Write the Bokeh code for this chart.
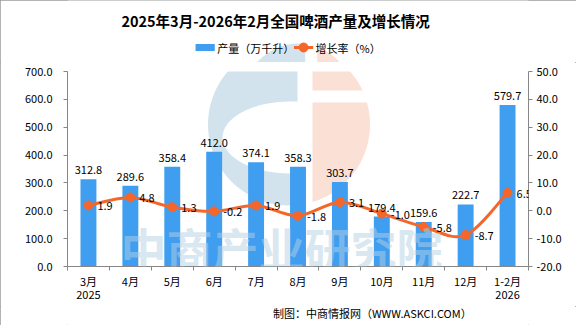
import numpy as np
from bokeh.plotting import figure
from bokeh.layouts import column
from bokeh.models import (Range1d, LinearAxis, FixedTicker, NumeralTickFormatter, Label,
                          ColumnDataSource, LabelSet)
from bokeh.core.properties import value
from bokeh.embed import file_html
from bokeh.resources import INLINE

# ---- data ----
categories = ["3月", "4月", "5月", "6月", "7月", "8月", "9月", "10月", "11月", "12月", "1-2月"]
year_labels = ["2025", "", "", "", "", "", "", "", "", "", "2026"]
output = [312.8, 289.6, 358.4, 412.0, 374.1, 358.3, 303.7, 179.4, 159.6, 222.7, 579.7]
growth = [1.9, 4.8, 1.3, -0.2, 1.9, -1.8, 3.1, -1.0, -5.8, -8.7, 6.5]
left_ticks = [0, 100, 200, 300, 400, 500, 600, 700]
right_ticks = [-20, -10, 0, 10, 20, 30, 40, 50]

title_text = "2025年3月-2026年2月全国啤酒产量及增长情况"
legend_bar = "产量（万千升）"
legend_line = "增长率（%）"
source_text = "制图：中商情报网（WWW.ASKCI.COM）"
watermark_text = "中商产业研究院"

FONT = "Noto Sans CJK SC"
BLUE = "#3f9ef0"
ORANGE = "#f4662a"
AXIS = "#868686"
LOGO_BLUE = "#d3e3ee"
LOGO_ORANGE = "#fbe0d5"

W = 576
HEAD_H, MAIN_H, FOOT_H = 62, 244, 19
L, R = 67, 48
MAIN_TOP, MAIN_BOTTOM = 9, 40
FRAME_TOP = HEAD_H + MAIN_TOP                 # canvas y of frame top
FRAME_BOTTOM = HEAD_H + MAIN_H - MAIN_BOTTOM  # canvas y of frame bottom
FRAME_W = W - L - R
FOOT_Y0 = HEAD_H + MAIN_H

n = len(categories)
xs = [i + 0.5 for i in range(n)]
YMAX = 700


def base_fig(h, xr, yr, **kw):
    f = figure(width=W, height=h, x_range=xr, y_range=yr, output_backend="svg",
               toolbar_location=None, outline_line_color=None,
               background_fill_color="white", border_fill_color="white", **kw)
    f.title.visible = False
    return f


# ---------- logo (watermark decoration) helpers ----------
LC = (288.5, 124.0)
LR = 81.0


def logo_shapes(f, fx, fy, level="underlay"):
    cx, cy = LC
    # blue part: disk region left of x=297
    c = (297 - cx) / LR
    a0 = np.arccos(c)
    th = np.linspace(a0, 2 * np.pi - a0, 80)
    bx = cx + LR * np.cos(th)
    by = cy - LR * np.sin(th)
    f.patch([fx(v) for v in bx], [fy(v) for v in by], fill_color=LOGO_BLUE,
            line_color=None, level=level)
    # white inner cut of the blue "C"
    ex, ey, rx, ry = 290.0, 137.0, 68.0, 36.0
    t2 = np.linspace(0, 2 * np.pi, 80)
    f.patch([fx(v) for v in ex + rx * np.cos(t2)], [fy(v) for v in ey + ry * np.sin(t2)],
            fill_color="white", line_color=None, level=level)
    # orange part: disk region right of x=312
    c2 = (312 - cx) / LR
    a1 = np.arccos(c2)
    th2 = np.linspace(-a1, a1, 60)
    ox = cx + LR * np.cos(th2)
    oy = cy - LR * np.sin(th2)
    f.patch([fx(v) for v in ox], [fy(v) for v in oy], fill_color=LOGO_ORANGE,
            line_color=None, level=level)
    # horizontal white gap in the orange part
    f.quad(left=fx(310), right=fx(372), top=fy(90), bottom=fy(102),
           fill_color="white", line_color=None, level=level)


# ---------- header ----------
head = base_fig(HEAD_H, Range1d(0, W), Range1d(HEAD_H, 0),
                x_axis_type=None, y_axis_type=None,
                min_border_left=0, min_border_right=0, min_border_top=0, min_border_bottom=0)
head.xgrid.visible = False
head.ygrid.visible = False
logo_shapes(head, lambda v: v, lambda v: v)
head.text(x=[260], y=[20], text=[title_text], text_font=value(FONT),
          text_font_size="14.5px", text_font_style="bold", text_color="#000000",
          text_align="center", text_baseline="middle")
head.quad(left=[160], right=[184], top=[43.5], bottom=[50.5], fill_color=BLUE, line_color=None)
head.text(x=[187], y=[47], text=[legend_bar], text_font=value(FONT), text_font_size="11px",
          text_color="#000000", text_align="left", text_baseline="middle")
head.segment(x0=[283], y0=[47], x1=[307], y1=[47], line_color=ORANGE, line_width=3)
head.scatter(x=[295], y=[47], size=9, fill_color=ORANGE, line_color=ORANGE)
head.text(x=[310], y=[47], text=[legend_line], text_font=value(FONT), text_font_size="11px",
          text_color="#000000", text_align="left", text_baseline="middle")

# ---------- main chart ----------
p = base_fig(MAIN_H, Range1d(0, n), Range1d(0, YMAX),
             min_border_left=L, min_border_right=R, min_border_top=MAIN_TOP,
             min_border_bottom=MAIN_BOTTOM)
p.xgrid.visible = False
p.ygrid.visible = False
p.extra_y_ranges = {"right": Range1d(-20, 50)}


def mx(cx):
    return (cx - L) / FRAME_W * n


def my(cy):
    return (FRAME_BOTTOM - cy) / (FRAME_BOTTOM - FRAME_TOP) * YMAX


logo_shapes(p, mx, my)

# left axis
ya = p.yaxis[0]
ya.ticker = FixedTicker(ticks=left_ticks)
ya.formatter = NumeralTickFormatter(format="0.0")
ya.major_tick_out = 4
ya.major_tick_in = 0
ya.minor_tick_line_color = None
ya.axis_line_color = AXIS
ya.major_tick_line_color = AXIS
ya.major_label_text_font = FONT
ya.major_label_text_font_size = "11px"
ya.major_label_text_color = "#000000"
ya.major_label_standoff = 11

# right axis
ra = LinearAxis(y_range_name="right")
ra.ticker = FixedTicker(ticks=right_ticks)
ra.formatter = NumeralTickFormatter(format="0.0")
ra.major_tick_out = 4
ra.major_tick_in = 0
ra.minor_tick_line_color = None
ra.axis_line_color = AXIS
ra.major_tick_line_color = AXIS
ra.major_label_text_font = FONT
ra.major_label_text_font_size = "11px"
ra.major_label_text_color = "#000000"
ra.major_label_standoff = 4
p.add_layout(ra, "right")

# bottom axis
xa = p.xaxis[0]
xa.ticker = FixedTicker(ticks=xs, minor_ticks=list(range(n + 1)))
overrides = {}
for x, c, yl in zip(xs, categories, year_labels):
    overrides[x] = c + ("\n" + yl if yl else "")
xa.major_label_overrides = overrides
xa.major_tick_line_color = None
xa.major_tick_out = 0
xa.major_tick_in = 0
xa.minor_tick_out = 4
xa.minor_tick_in = 0
xa.minor_tick_line_color = AXIS
xa.axis_line_color = AXIS
xa.major_label_text_font = FONT
xa.major_label_text_font_size = "11px"
xa.major_label_text_color = "#000000"
xa.major_label_text_line_height = 0.82
xa.major_label_standoff = 2

# bars
src = ColumnDataSource(dict(x=xs, top=output, lab=["%.1f" % v for v in output]))
p.vbar(x="x", top="top", width=0.38, source=src, fill_color=BLUE, line_color=None)
p.add_layout(LabelSet(x="x", y="top", text="lab", source=src, y_offset=5,
                      text_align="center", text_baseline="bottom",
                      text_font=value(FONT), text_font_size="11px", text_color="#000000"))

# smooth growth line (bezier segments through the data points)
g = np.array(growth, dtype=float)
xg = np.array(xs, dtype=float)
prev_x = np.concatenate([[xg[0]], xg[:-1]])
prev_y = np.concatenate([[g[0]], g[:-1]])
next_x = np.concatenate([xg[1:], [xg[-1]]])
next_y = np.concatenate([g[1:], [g[-1]]])
segs = dict(x0=[], y0=[], x1=[], y1=[], cx0=[], cy0=[], cx1=[], cy1=[])
for i in range(n - 1):
    segs["x0"].append(xg[i]); segs["y0"].append(g[i])
    segs["x1"].append(xg[i + 1]); segs["y1"].append(g[i + 1])
    segs["cx0"].append(xg[i] + (xg[i + 1] - prev_x[i]) / 6)
    segs["cy0"].append(g[i] + (g[i + 1] - prev_y[i]) / 6)
    segs["cx1"].append(xg[i + 1] - (next_x[i + 1] - xg[i]) / 6)
    segs["cy1"].append(g[i + 1] - (next_y[i + 1] - g[i]) / 6)
p.bezier(source=ColumnDataSource(segs), x0="x0", y0="y0", x1="x1", y1="y1",
         cx0="cx0", cy0="cy0", cx1="cx1", cy1="cy1",
         line_color=ORANGE, line_width=3, y_range_name="right")
gsrc = ColumnDataSource(dict(x=xs, y=growth, lab=["%.1f" % v for v in growth]))
p.scatter("x", "y", source=gsrc, size=9, fill_color=ORANGE, line_color=ORANGE,
          y_range_name="right")
p.add_layout(LabelSet(x="x", y="y", text="lab", source=gsrc, y_range_name="right",
                      x_offset=9, y_offset=-1, text_align="left", text_baseline="middle",
                      text_font=value(FONT), text_font_size="11px", text_color="#000000"))

# watermark text
p.add_layout(Label(x=120 - L, y=FRAME_BOTTOM - 246, x_units="screen", y_units="screen",
                   text=watermark_text, text_font=FONT, text_font_size="46px",
                   text_font_style="bold", text_color="#b3cfe3", text_alpha=0.5,
                   text_baseline="middle", text_align="left"))

# ---------- footer ----------
foot = base_fig(FOOT_H, Range1d(0, W), Range1d(FOOT_H, 0),
                x_axis_type=None, y_axis_type=None,
                min_border_left=0, min_border_right=0, min_border_top=0, min_border_bottom=0)
foot.xgrid.visible = False
foot.ygrid.visible = False
foot.text(x=[505], y=[312 - FOOT_Y0], text=[source_text], text_font=value(FONT),
          text_font_size="11px", text_color="#000000", text_align="right",
          text_baseline="middle")

layout = column(head, p, foot, spacing=0)
layout.styles = {"outline": "1px solid #9a9a9a", "outline-offset": "-1px"}

open("out.html", "w").write(file_html(layout, INLINE))
